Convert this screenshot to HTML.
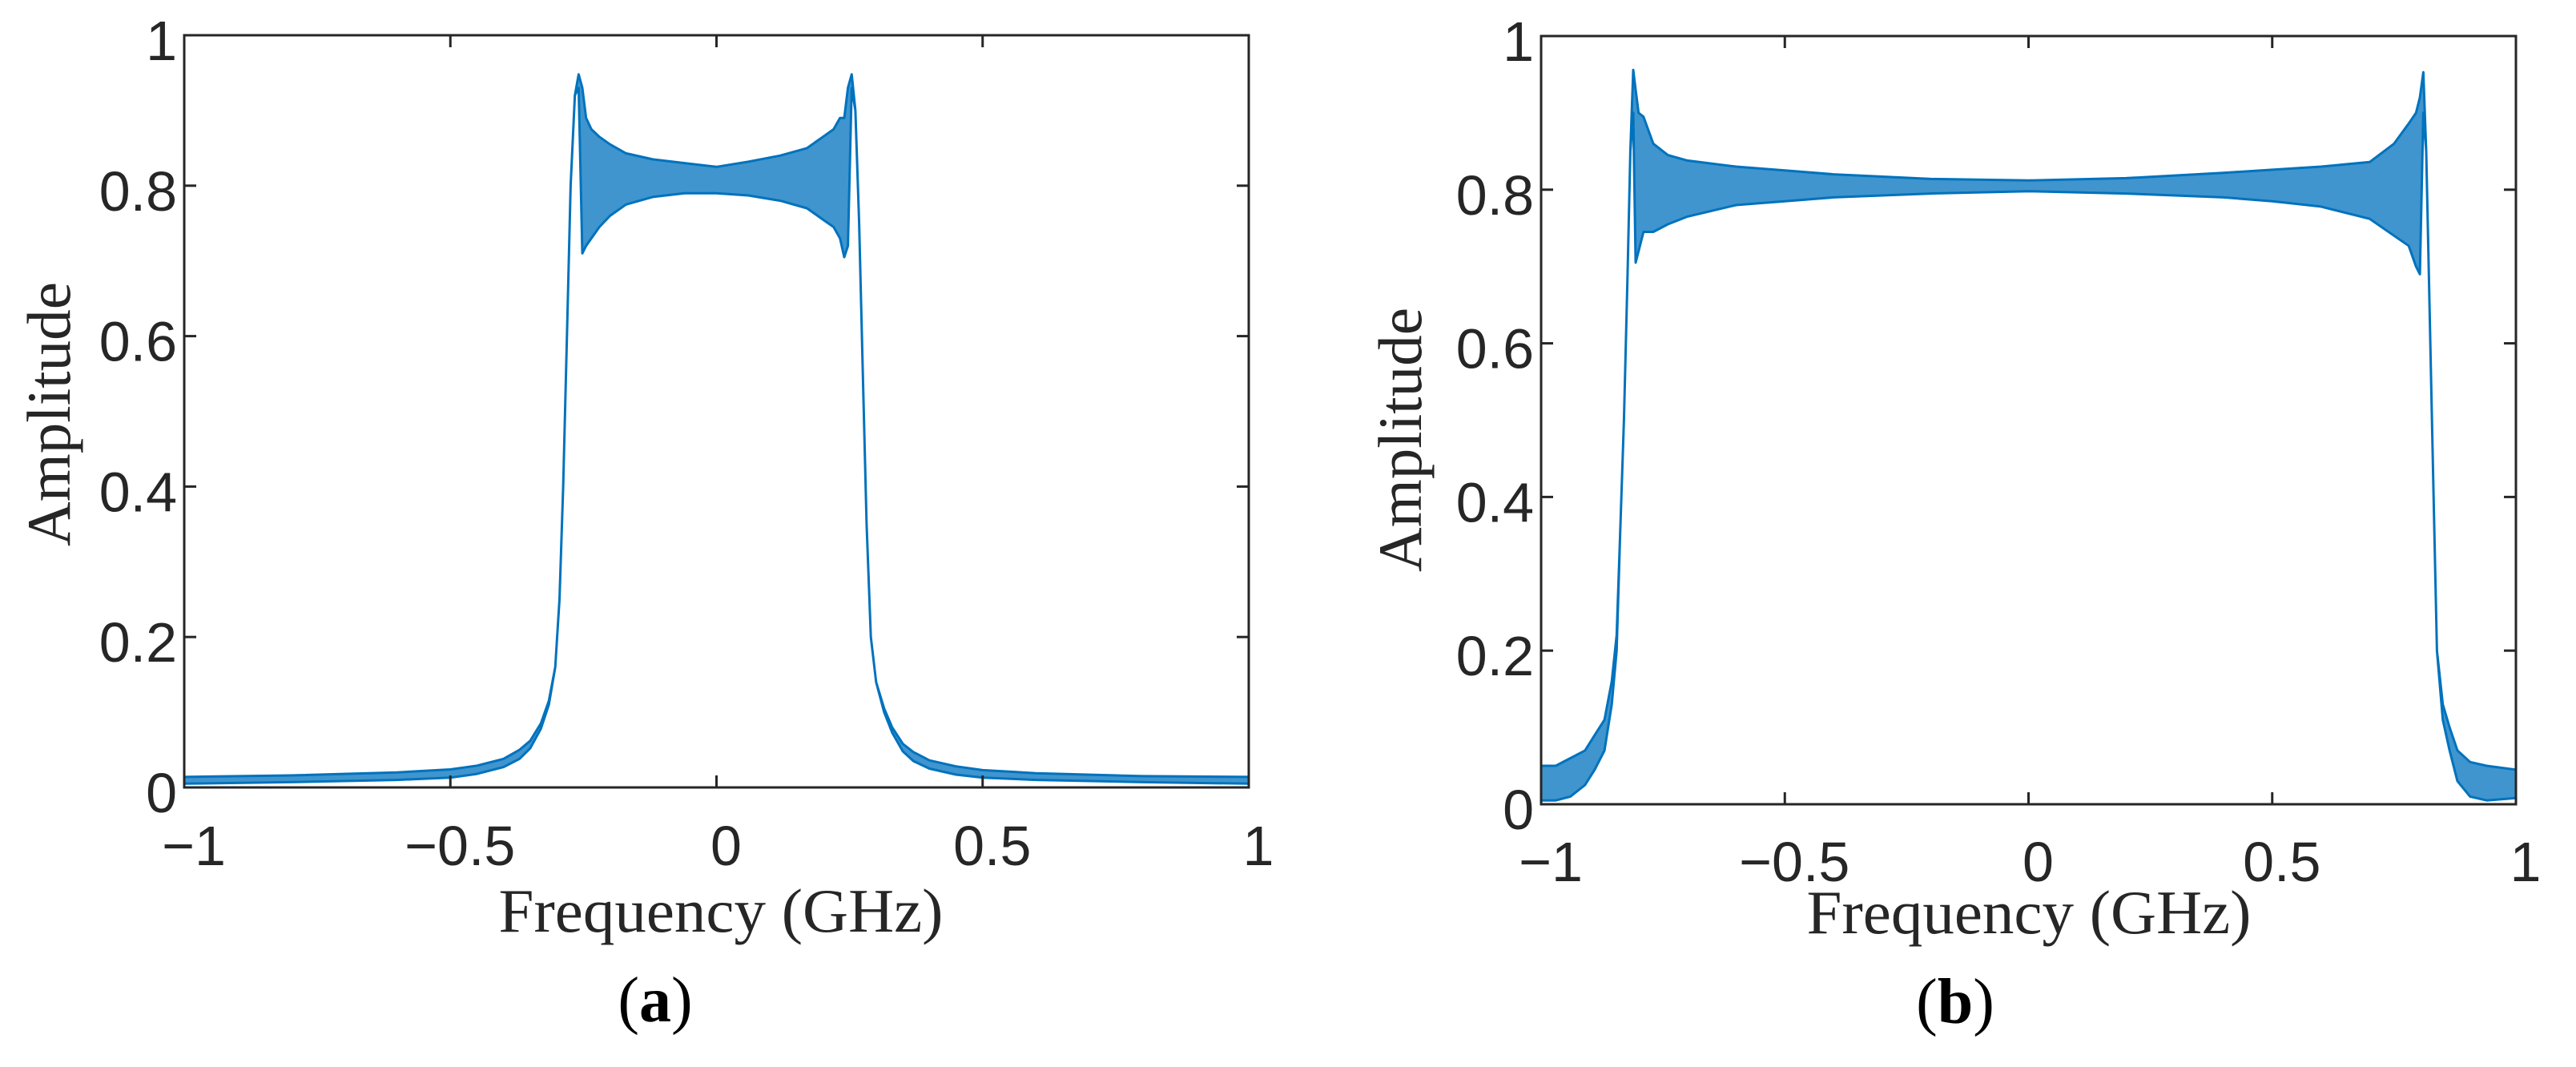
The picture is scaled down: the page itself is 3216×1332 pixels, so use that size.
<!DOCTYPE html>
<html><head><meta charset="utf-8"><style>
html,body{margin:0;padding:0;background:#fff;width:3216px;height:1332px;overflow:hidden}
svg{display:block}
.tk{font-family:"Liberation Sans",Arial,sans-serif;font-size:70px;fill:#262626}
.lab{font-family:"Liberation Serif","Times New Roman",serif;font-size:77px;fill:#262626}
.cap{font-family:"Liberation Serif","Times New Roman",serif;font-size:80px;fill:#000}
</style></head><body>
<svg id="fig" width="3216" height="1332" viewBox="0 0 3216 1332" xmlns="http://www.w3.org/2000/svg"></svg>
<script>
// Panel (a) data: frequency (GHz), upper and lower envelope of amplitude
const freqA=[-1,-0.8,-0.6,-0.5,-0.45,-0.4,-0.37,-0.35,-0.33,-0.315,-0.303,-0.295,-0.288,-0.281,-0.274,-0.266,-0.259,-0.252,-0.245,-0.235,-0.22,-0.2,-0.17,-0.12,-0.06,0,0.06,0.12,0.17,0.2,0.22,0.232,0.24,0.247,0.254,0.261,0.268,0.275,0.282,0.29,0.3,0.315,0.33,0.35,0.37,0.4,0.45,0.5,0.6,0.8,1];
const upperA=[0.014,0.016,0.020,0.024,0.029,0.038,0.050,0.062,0.085,0.115,0.16,0.25,0.40,0.6,0.8,0.92,0.948,0.93,0.89,0.875,0.865,0.855,0.843,0.835,0.83,0.825,0.832,0.84,0.85,0.865,0.875,0.89,0.89,0.93,0.948,0.90,0.75,0.55,0.35,0.2,0.14,0.105,0.08,0.058,0.047,0.036,0.028,0.023,0.019,0.015,0.014];
const lowerA=[0.005,0.007,0.010,0.013,0.018,0.027,0.038,0.052,0.078,0.11,0.16,0.25,0.40,0.6,0.8,0.92,0.93,0.71,0.72,0.73,0.745,0.76,0.775,0.785,0.79,0.79,0.787,0.78,0.77,0.755,0.745,0.73,0.705,0.72,0.93,0.90,0.75,0.55,0.35,0.2,0.14,0.10,0.073,0.048,0.035,0.025,0.017,0.013,0.010,0.007,0.005];
// Panel (b) data
const freqB=[-1,-0.97,-0.94,-0.91,-0.89,-0.87,-0.855,-0.845,-0.838,-0.83,-0.823,-0.817,-0.811,-0.806,-0.8,-0.79,-0.77,-0.74,-0.7,-0.6,-0.5,-0.4,-0.2,0,0.2,0.4,0.5,0.6,0.7,0.75,0.78,0.795,0.803,0.81,0.816,0.822,0.83,0.838,0.85,0.864,0.88,0.906,0.94,1];
const upperB=[0.05,0.05,0.06,0.07,0.09,0.11,0.16,0.22,0.35,0.5,0.68,0.85,0.956,0.93,0.90,0.895,0.86,0.845,0.838,0.83,0.825,0.82,0.814,0.812,0.815,0.822,0.826,0.83,0.836,0.86,0.886,0.9,0.92,0.953,0.85,0.67,0.43,0.2,0.13,0.10,0.07,0.055,0.05,0.045];
const lowerB=[0.005,0.005,0.01,0.025,0.045,0.07,0.13,0.2,0.35,0.5,0.68,0.85,0.9,0.705,0.72,0.745,0.745,0.755,0.765,0.78,0.785,0.79,0.795,0.798,0.795,0.79,0.785,0.778,0.762,0.74,0.727,0.70,0.69,0.9,0.85,0.67,0.43,0.2,0.11,0.07,0.03,0.01,0.005,0.008];
const xTicks=[-1,-0.5,0,0.5,1];
const xTickLabels=["\u22121","\u22120.5","0","0.5","1"];
const yTicks=[0,0.2,0.4,0.6,0.8,1];
const yTickLabels=["0","0.2","0.4","0.6","0.8","1"];

const NS="http://www.w3.org/2000/svg";
const svg=document.getElementById('fig');
function mk(tag,attrs,parent){const e=document.createElementNS(NS,tag);for(const k in attrs)e.setAttribute(k,attrs[k]);(parent||svg).appendChild(e);return e;}

function panel(id,box,freq,up,lo,opt){
  const g=mk('g',{});
  
  
  const sx=v=>box.l+(v+1)/2*(box.r-box.l);
  const sy=v=>box.b-v*(box.b-box.t);
  let pts=[];
  for(let i=0;i<freq.length;i++)pts.push(sx(freq[i]).toFixed(1)+','+sy(up[i]).toFixed(1));
  for(let i=freq.length-1;i>=0;i--)pts.push(sx(freq[i]).toFixed(1)+','+sy(lo[i]).toFixed(1));
  const band=mk('polygon',{points:pts.join(' '),fill:'#0072BD','fill-opacity':0.75,stroke:'#0072BD','stroke-width':3,'stroke-linejoin':'round'},g);
  
  
  const ax=mk('rect',{x:box.l,y:box.t,width:box.r-box.l,height:box.b-box.t,fill:'none',stroke:'#262626','stroke-width':3},g);
  
  
  const tl=15;
  xTicks.forEach((v,i)=>{
    const x=sx(v);
    const t1=mk('line',{x1:x,x2:x,y1:box.b,y2:box.b-tl,stroke:'#262626','stroke-width':3},g);
    
    
    const t2=mk('line',{x1:x,x2:x,y1:box.t,y2:box.t+tl,stroke:'#262626','stroke-width':3},g);
    
    
    const tx=mk('text',{x:x+12,y:opt.xlabY,'text-anchor':'middle','class':'tk'},g);
    tx.textContent=xTickLabels[i];
    
    
  });
  yTicks.forEach((v,i)=>{
    const y=sy(v);
    const t1=mk('line',{x1:box.l,x2:box.l+tl,y1:y,y2:y,stroke:'#262626','stroke-width':3},g);
    
    
    const t2=mk('line',{x1:box.r,x2:box.r-tl,y1:y,y2:y,stroke:'#262626','stroke-width':3},g);
    
    
    const tx=mk('text',{x:box.l-9,y:y+31,'text-anchor':'end','class':'tk'},g);
    tx.textContent=yTickLabels[i];
    
    
  });
  const xl=mk('text',{x:opt.xTitleX,y:opt.xTitleY,'text-anchor':'middle','class':'lab',textLength:555,lengthAdjust:'spacingAndGlyphs'},g);
  xl.textContent='Frequency (GHz)';
  
  
  const yl=mk('text',{x:0,y:0,'text-anchor':'middle','class':'lab',transform:'translate('+(opt.yTitleX+27)+','+opt.yTitleY+') rotate(-90)',textLength:330,lengthAdjust:'spacingAndGlyphs'},g);
  yl.textContent='Amplitude';
  
  
  const cp=mk('text',{x:opt.capX,y:opt.capY,'text-anchor':'middle','class':'cap'},g);
  const p1=mk('tspan',{},cp);p1.textContent='(';
  const p2=mk('tspan',{'font-weight':'bold'},cp);p2.textContent=id;
  const p3=mk('tspan',{},cp);p3.textContent=')';
  
  
}
panel('a',{l:230,r:1559,t:44,b:983},freqA,upperA,lowerA,{xlabY:1080,xTitleX:900,xTitleY:1163,yTitleX:60,yTitleY:517,capX:818,capY:1275});
panel('b',{l:1924,r:3141,t:45,b:1004},freqB,upperB,lowerB,{xlabY:1100,xTitleX:2533,xTitleY:1165,yTitleX:1747,yTitleY:549,capX:2441,capY:1277});
</script>
</body></html>
